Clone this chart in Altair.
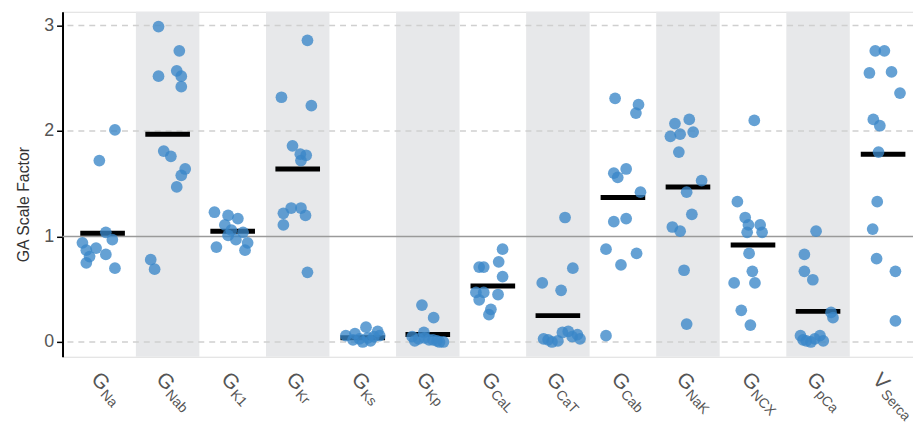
import altair as alt
import pandas as pd

# ---- data ----
categories = ["Na", "Nab", "K1", "Kr", "Ks", "Kp", "CaL", "CaT", "Cab", "NaK", "NCX", "pCa", "Serca"]
main_letters = ["G", "G", "G", "G", "G", "G", "G", "G", "G", "G", "G", "G", "V"]

na_vals = [2.01, 1.72, 1.04, 0.97, 0.94, 0.89, 0.87, 0.83, 0.81, 0.75, 0.70]
na_jit = [0.19, -0.05, 0.05, 0.15, -0.31, -0.10, -0.25, 0.05, -0.20, -0.25, 0.19]
nab_vals = [2.99, 2.76, 2.52, 2.57, 2.52, 2.42, 1.81, 1.76, 1.64, 1.58, 1.47, 0.78, 0.69]
nab_jit = [-0.14, 0.18, -0.14, 0.14, 0.21, 0.21, -0.06, 0.05, 0.27, 0.21, 0.14, -0.26, -0.20]
k1_vals = [1.23, 1.20, 1.17, 1.11, 1.06, 0.90, 0.87, 0.97, 0.94, 1.01, 1.04]
k1_jit = [-0.28, -0.07, 0.08, -0.12, -0.02, -0.25, 0.19, 0.05, 0.23, -0.07, 0.16]
kr_vals = [2.86, 2.32, 2.24, 1.86, 1.78, 1.77, 1.72, 1.27, 1.27, 1.22, 1.20, 1.11, 0.66]
kr_jit = [0.15, -0.25, 0.21, -0.08, 0.04, 0.13, 0.05, -0.10, 0.05, -0.22, 0.12, -0.22, 0.15]
ks_vals = [0.06, 0.14, 0.10, 0.03, 0.01, 0.08, 0.06, 0.02, 0.04, 0.05, 0.00]
ks_jit = [-0.26, 0.05, 0.23, -0.05, 0.12, -0.12, 0.26, -0.15, 0.08, 0.17, 0.00]
kp_vals = [0.35, 0.23, 0.09, 0.05, 0.03, 0.02, 0.01, 0.00, 0.01, 0.02, 0.04, 0.00]
kp_jit = [-0.09, 0.09, -0.06, -0.24, -0.14, 0.02, 0.14, 0.24, -0.20, 0.08, -0.05, 0.18]
cal_vals = [0.88, 0.76, 0.71, 0.71, 0.62, 0.47, 0.47, 0.45, 0.40, 0.26, 0.31]
cal_jit = [0.15, 0.09, -0.21, -0.14, 0.15, -0.26, -0.14, 0.08, -0.21, -0.06, -0.03]
cat_vals = [1.18, 0.70, 0.56, 0.49, 0.09, 0.07, 0.03, 0.00, 0.05, 0.10, 0.02, 0.01, 0.03]
cat_jit = [0.11, 0.23, -0.24, 0.05, 0.07, 0.30, -0.22, -0.09, 0.22, 0.16, -0.15, 0.00, 0.34]
cab_vals = [2.31, 2.25, 2.17, 1.64, 1.60, 1.56, 1.42, 1.17, 1.14, 0.88, 0.84, 0.73, 0.06]
cab_jit = [-0.12, 0.24, 0.20, 0.05, -0.14, -0.08, 0.27, 0.05, -0.14, -0.26, 0.21, -0.03, -0.26]
nak_vals = [2.07, 2.11, 1.95, 1.97, 1.99, 1.80, 1.53, 1.42, 1.21, 1.09, 1.05, 0.68, 0.17]
nak_jit = [-0.20, 0.02, -0.27, -0.12, 0.08, -0.14, 0.21, -0.02, 0.06, -0.24, -0.12, -0.06, -0.02]
ncx_vals = [2.10, 1.33, 1.18, 1.11, 1.11, 1.04, 1.04, 0.84, 0.67, 0.56, 0.56, 0.30, 0.16]
ncx_jit = [0.02, -0.24, -0.12, -0.07, 0.11, -0.09, 0.14, -0.06, -0.01, 0.03, -0.29, -0.18, -0.04]
pca_vals = [1.05, 0.83, 0.67, 0.59, 0.28, 0.23, 0.06, 0.01, 0.03, 0.06, 0.00, 0.02, 0.01]
pca_jit = [-0.03, -0.21, -0.21, -0.08, 0.20, 0.23, -0.27, -0.18, -0.05, 0.03, -0.11, -0.23, 0.08]
serca_vals = [2.76, 2.76, 2.55, 2.56, 2.36, 2.11, 2.05, 1.80, 1.33, 1.07, 0.79, 0.67, 0.20]
serca_jit = [-0.12, 0.02, -0.21, 0.13, 0.26, -0.15, -0.05, -0.07, -0.09, -0.16, -0.10, 0.19, 0.19]

means = [1.03, 1.97, 1.05, 1.64, 0.04, 0.07, 0.53, 0.25, 1.37, 1.47, 0.92, 0.29, 1.78]
shaded = [1, 3, 5, 7, 9, 11]
grid_values = [0, 2, 3]
ref_value = [1]

all_vals = [na_vals, nab_vals, k1_vals, kr_vals, ks_vals, kp_vals, cal_vals,
            cat_vals, cab_vals, nak_vals, ncx_vals, pca_vals, serca_vals]
all_jit = [na_jit, nab_jit, k1_jit, kr_jit, ks_jit, kp_jit, cal_jit,
           cat_jit, cab_jit, nak_jit, ncx_jit, pca_jit, serca_jit]

# ---- tables ----
rows = []
for i, (vals, jit) in enumerate(zip(all_vals, all_jit)):
    for v, j in zip(vals, jit):
        rows.append({"pos": i + j, "v": v})
points_df = pd.DataFrame(rows)

means_df = pd.DataFrame({"x0": [i - 0.343 for i in range(len(means))],
                         "x1": [i + 0.343 for i in range(len(means))],
                         "v": means})
bands_df = pd.DataFrame({"x0": [i - 0.488 for i in shaded],
                         "x1": [i + 0.488 for i in shaded],
                         "lo": [-0.14] * len(shaded), "hi": [3.13] * len(shaded)})
grid_df = pd.DataFrame({"v": grid_values})
ref_df = pd.DataFrame({"v": ref_value})
labels_df = pd.DataFrame({"pos": list(range(len(categories))),
                          "main": main_letters, "sub": categories})

# ---- scales / axes ----
x_scale = alt.Scale(domain=[-0.616, 12.46], nice=False, zero=False)
y_scale = alt.Scale(domain=[-0.14, 3.13], nice=False, zero=False)
y_axis = alt.Axis(values=[0, 1, 2, 3], grid=False, format="d",
                  labelFont="Liberation Sans", labelFontSize=18, labelColor="#555555",
                  labelPadding=3, tickSize=6, tickColor="#000000", tickWidth=1.5,
                  domainColor="#000000", domainWidth=2,
                  titleFont="Liberation Sans", titleFontSize=16, titleFontWeight="normal",
                  titleColor="#333333", titleX=-34, titleY=194, titleAlign="center",
                  titleBaseline="alphabetic")
TITLE = "GA Scale Factor"

bands = alt.Chart(bands_df).mark_rect(color="#e7e8ea").encode(
    x=alt.X("x0:Q", scale=x_scale, axis=None),
    x2="x1:Q",
    y=alt.Y("lo:Q", scale=y_scale, axis=y_axis, title=TITLE),
    y2="hi:Q",
)

grid = alt.Chart(grid_df).mark_rule(color="#cfcfcf", strokeWidth=1.5, strokeDash=[6, 5]).encode(
    y=alt.Y("v:Q", scale=y_scale, axis=y_axis, title=TITLE),
)

ref = alt.Chart(ref_df).mark_rule(color="#9a9a9a", strokeWidth=1.6).encode(
    y=alt.Y("v:Q", scale=y_scale, axis=y_axis, title=TITLE),
)

mean_bars = alt.Chart(means_df).mark_rule(color="#000000", strokeWidth=5).encode(
    x=alt.X("x0:Q", scale=x_scale, axis=None),
    x2="x1:Q",
    y=alt.Y("v:Q", scale=y_scale, axis=y_axis, title=TITLE),
)

pts = alt.Chart(points_df).mark_circle(size=140, color="#3a86c8", opacity=0.78).encode(
    x=alt.X("pos:Q", scale=x_scale, axis=None),
    y=alt.Y("v:Q", scale=y_scale, axis=y_axis, title=TITLE),
)

lab_main = alt.Chart(labels_df).mark_text(
    angle=47, align="center", baseline="middle", font="Liberation Sans",
    fontSize=21, color="#555555", dx=-1.5, dy=2
).encode(
    x=alt.X("pos:Q", scale=x_scale, axis=None),
    y=alt.value(373),
    text="main:N",
)

lab_sub = alt.Chart(labels_df).mark_text(
    angle=47, align="left", baseline="middle", font="Liberation Sans",
    fontSize=14, color="#555555", dx=8, dy=7.5
).encode(
    x=alt.X("pos:Q", scale=x_scale, axis=None),
    y=alt.value(373),
    text="sub:N",
)

chart = alt.layer(bands, grid, ref, mean_bars, pts, lab_main, lab_sub).properties(
    width=858, height=348,
    autosize=alt.AutoSizeParams(type="none"),
    padding={"left": 55, "top": 2, "right": 0, "bottom": 65},
).configure_view(stroke=None).configure(background="white")

chart.save("out.html", embed_options={"renderer": "svg", "actions": False})
